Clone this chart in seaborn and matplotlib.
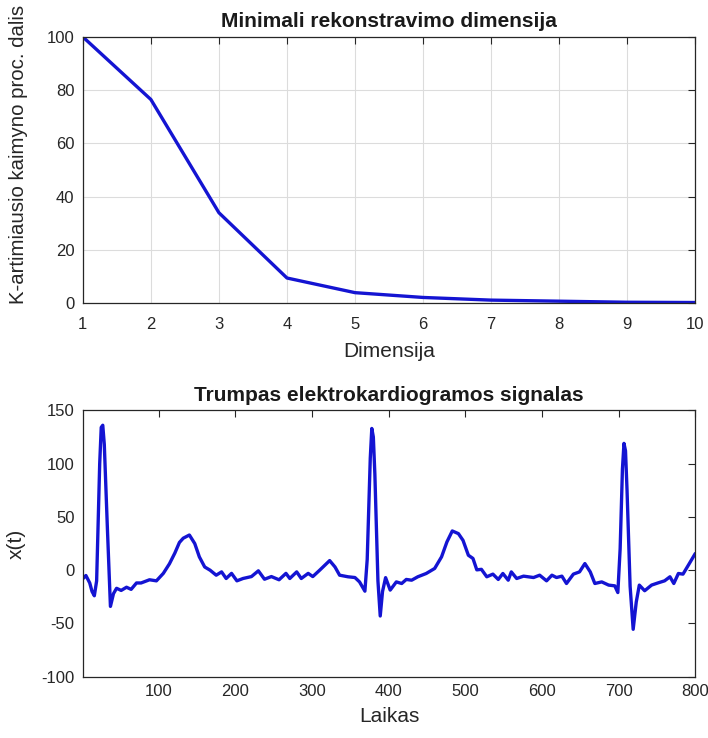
import matplotlib
matplotlib.use("Agg")
import matplotlib.pyplot as plt
import seaborn as sns
import pandas as pd

# Nearest-neighbour false-neighbour percentage vs. embedding dimension
dimensions = [1, 2, 3, 4, 5, 6, 7, 8, 9, 10]
fnn_percent = [100, 76.5, 34, 9.5, 4, 2.2, 1.2, 0.8, 0.4, 0.3]

# Short ECG recording (sample index, amplitude)
ecg_t = [1, 5, 10, 13, 16, 19, 23, 25, 27, 29, 33, 37, 41, 45, 51, 58, 64, 71,
         77, 88, 97, 106, 114, 121, 127, 132, 140, 147, 153, 160, 167, 175,
         182, 188, 195, 202, 210, 221, 230, 238, 247, 257, 266, 271, 280, 286,
         295, 301, 310, 323, 330, 336, 347, 356, 362, 369, 372, 376, 378, 380,
         382, 386, 389, 392, 396, 402, 410, 417, 423, 430, 438, 449, 460, 469,
         476, 483, 491, 497, 504, 510, 515, 521, 528, 536, 543, 549, 556, 560,
         567, 576, 589, 597, 606, 613, 619, 626, 632, 641, 649, 656, 663, 669,
         678, 687, 695, 699, 702, 705, 707, 709, 711, 715, 719, 723, 727, 734,
         743, 752, 760, 767, 772, 778, 784, 791, 800]
ecg_x = [-8, -5, -12, -20, -24, -10, 100, 134, 136, 118, 40, -34, -22, -17,
         -19, -16, -18, -12, -12, -9, -10, -3, 6, 16, 26, 30, 33, 25, 12.5, 3,
         0, -4.7, -1.6, -7.8, -3, -10, -7.8, -6, -0.6, -8.5, -6, -9, -3, -7.8,
         -1.6, -7.8, -3, -6, 0, 9, 3, -4.7, -6.2, -6.9, -11, -19.7, 10, 105,
         133, 125, 90, -10, -43, -20, -7, -18.7, -11, -12.5, -8.7, -9.4, -6.2,
         -3.1, 1.6, 12.5, 26.5, 36.8, 34.3, 28, 14, 11, 0.3, 0.8, -6.2, -3.7,
         -8.7, -3.1, -9.4, -1.6, -7.8, -5.6, -6.9, -4.7, -10, -4.7, -6.9, -5.6,
         -12.5, -3.7, -1.6, 6.2, -1.6, -12.5, -11, -14, -14.7, -21, 20, 95,
         119, 112, 75, -15, -55.5, -30, -14, -19.3, -14, -11.8, -10, -6.2,
         -12.5, -3.1, -3.7, 4.7, 15.6]

fnn_df = pd.DataFrame({"dim": dimensions, "pct": fnn_percent})
ecg_df = pd.DataFrame({"t": ecg_t, "x": ecg_x})

sns.set_style("white")
plt.rcParams["font.family"] = ["Liberation Sans", "DejaVu Sans"]
plt.rcParams["axes.unicode_minus"] = False

line_color = "#1414d2"
text_color = "#262626"
fig = plt.figure(figsize=(7.08, 7.38), dpi=100)
ax1 = fig.add_axes([0.117, 0.589, 0.865, 0.361])
ax2 = fig.add_axes([0.117, 0.083, 0.865, 0.361])

sns.lineplot(data=fnn_df, x="dim", y="pct", ax=ax1, color=line_color, linewidth=2.4)
ax1.set_xlim(1, 10)
ax1.set_ylim(0, 100)
ax1.set_xticks(range(1, 11))
ax1.set_yticks(range(0, 101, 20))
ax1.grid(True, color="#dcdcdc", linewidth=0.8)
ax1.set_title("Minimali rekonstravimo dimensija", fontsize=15, fontweight="bold", pad=7)
ax1.set_xlabel("Dimensija", fontsize=15, labelpad=7)
ax1.set_ylabel("K-artimiausio kaimyno proc. dalis", fontsize=14.7)
ax1.yaxis.set_label_coords(-0.09, 0.56)

sns.lineplot(data=ecg_df, x="t", y="x", ax=ax2, color=line_color, linewidth=2.4)
ax2.set_xlim(1, 800)
ax2.set_ylim(-100, 150)
ax2.set_xticks(range(100, 801, 100))
ax2.set_yticks(range(-100, 151, 50))
ax2.set_title("Trumpas elektrokardiogramos signalas", fontsize=15, fontweight="bold", pad=7)
ax2.set_xlabel("Laikas", fontsize=15, labelpad=6)
ax2.set_ylabel("x(t)", fontsize=15, labelpad=11)

for ax in (ax1, ax2):
    for s in ax.spines.values():
        s.set_color(text_color)
        s.set_linewidth(0.9)
    ax.tick_params(direction="in", length=5, width=0.8, top=True, right=True,
                   labelsize=12, colors=text_color)
    ax.tick_params(axis="y", pad=6)
    ax.title.set_color("#1a1a1a")
    ax.xaxis.label.set_color(text_color)
    ax.yaxis.label.set_color(text_color)
ax1.tick_params(axis="x", pad=10)
ax2.tick_params(axis="x", pad=5)

fig.savefig("out.png", dpi=100, facecolor="white")
